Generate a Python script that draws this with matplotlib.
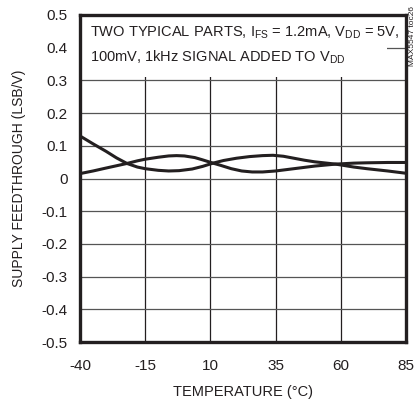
import matplotlib
matplotlib.use("Agg")
import matplotlib.pyplot as plt
from matplotlib.patches import Rectangle

plt.rcParams['font.family'] = ['Liberation Sans', 'DejaVu Sans']
plt.rcParams['mathtext.fontset'] = 'custom'
plt.rcParams['mathtext.rm'] = 'Liberation Sans'

# two typical parts
temp_a = [-40, -35, -30, -26, -22, -18, -15, -10, -6, -2, 3, 7, 11, 14, 18, 22, 26, 30, 35, 40, 45, 50, 58, 65, 70, 78, 85]
feed_a = [0.130, 0.106, 0.083, 0.063, 0.046, 0.035, 0.030, 0.025, 0.023, 0.024, 0.029, 0.037, 0.047, 0.040, 0.030, 0.023, 0.020, 0.020, 0.023, 0.028, 0.033, 0.038, 0.044, 0.047, 0.048, 0.049, 0.049]
temp_b = [-40, -35, -30, -26, -22, -18, -15, -10, -6, -3, 0, 4, 7, 11, 15, 20, 25, 30, 34, 38, 42, 46, 50, 58, 65, 70, 78, 85]
feed_b = [0.015, 0.023, 0.032, 0.039, 0.046, 0.054, 0.059, 0.065, 0.069, 0.070, 0.069, 0.064, 0.057, 0.047, 0.055, 0.062, 0.067, 0.070, 0.071, 0.068, 0.062, 0.056, 0.051, 0.044, 0.035, 0.030, 0.023, 0.016]

x_ticks = [-40, -15, 10, 35, 60, 85]
y_ticks = [0.5, 0.4, 0.3, 0.2, 0.1, 0, -0.1, -0.2, -0.3, -0.4, -0.5]
y_labels = ['0.5', '0.4', '0.3', '0.2', '0.1', '0', '-0.1', '-0.2', '-0.3', '-0.4', '-0.5']

fig = plt.figure(figsize=(4.19, 4.0), dpi=100)
ax = fig.add_axes([0.191, 0.145, 0.778, 0.8175])

ax.plot(temp_a, feed_a, color='#231f20', lw=2.2, zorder=3)
ax.plot(temp_b, feed_b, color='#231f20', lw=2.2, zorder=3)

ax.set_xlim(-40, 85)
ax.set_ylim(-0.5, 0.5)
ax.set_xticks(x_ticks)
ax.set_xticklabels([str(t) for t in x_ticks])
ax.set_yticks(y_ticks)
ax.set_yticklabels(y_labels)
ax.tick_params(length=0, labelsize=11, colors='#231f20', pad=9)
ax.tick_params(axis='x', pad=12)

ax.set_axisbelow(True)
ax.grid(True, axis='x', color='#231f20', lw=0.9)
ax.grid(True, axis='y', color='#555555', lw=0.9)
for s in ax.spines.values():
    s.set_linewidth(2.4)
    s.set_color('#231f20')

# white box behind the note
ax.add_patch(Rectangle((0, 0.81), 0.942, 0.19, transform=ax.transAxes,
                       facecolor='white', edgecolor='none', zorder=1))
ax.text(0.03, 0.945, r'TWO TYPICAL PARTS, I$_{\mathrm{FS}}$ = 1.2mA, V$_{\mathrm{DD}}$ = 5V,',
        transform=ax.transAxes, fontsize=10.5, color='#231f20', va='center', zorder=4)
ax.text(0.03, 0.872, r'100mV, 1kHz SIGNAL ADDED TO V$_{\mathrm{DD}}$',
        transform=ax.transAxes, fontsize=10.5, color='#231f20', va='center', zorder=4)

ax.set_xlabel('TEMPERATURE (°C)', fontsize=10.5, color='#231f20', labelpad=9)
ax.set_ylabel('SUPPLY FEEDTHROUGH (LSB/V)', fontsize=10, color='#231f20', labelpad=11)

fig.text(0.985, 0.91, 'MAX5547 toc26', rotation=90, fontsize=6, color='#231f20',
         ha='center', va='center')

fig.savefig('out.png', dpi=100)
